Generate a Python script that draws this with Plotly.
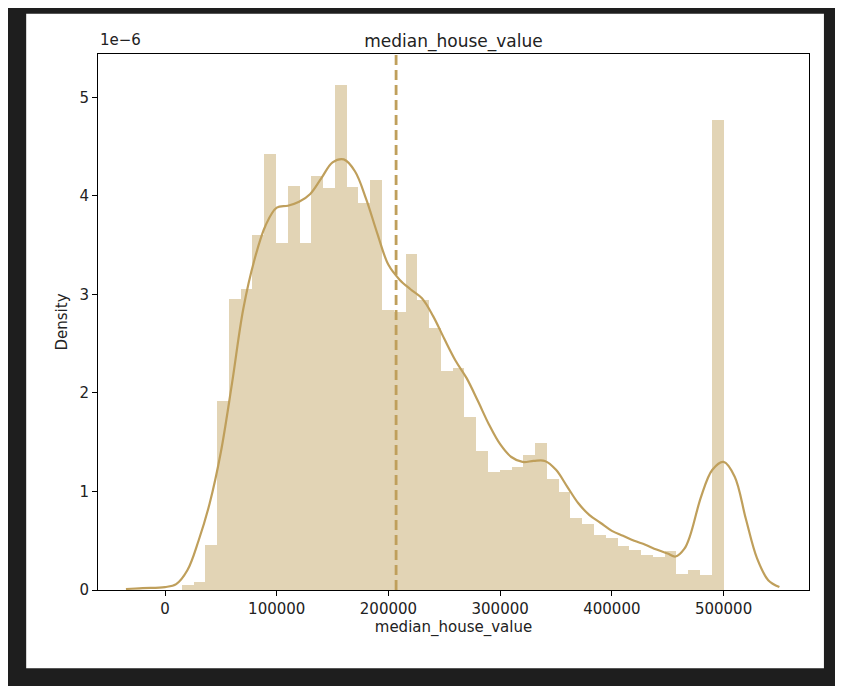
import plotly.graph_objects as go

# histogram of median_house_value (46 equal bins), density in units of 1e-6
bin_start = 14999
bin_end = 500001
n_bins = 46
hist_density = [0.05, 0.08, 0.46, 1.92, 2.95, 3.05, 3.60, 4.43, 3.52, 4.10,
                3.52, 4.20, 4.08, 5.13, 4.09, 3.93, 4.16, 2.84, 2.82, 3.41,
                2.94, 2.66, 2.22, 2.25, 1.76, 1.41, 1.20, 1.22, 1.25, 1.37,
                1.49, 1.13, 0.99, 0.73, 0.67, 0.56, 0.53, 0.45, 0.41, 0.36,
                0.34, 0.40, 0.16, 0.20, 0.15, 4.77]

# kde curve
kde_x = [-35000, -20000, 0, 10000, 20000, 30000, 40000, 50000, 60000, 70000,
         80000, 90000, 100000, 110000, 120000, 130000, 140000, 150000, 160000,
         170000, 180000, 190000, 200000, 210000, 220000, 230000, 240000, 250000,
         260000, 270000, 280000, 290000, 300000, 310000, 320000, 330000, 340000,
         350000, 360000, 370000, 380000, 390000, 400000, 410000, 420000, 430000,
         440000, 450000, 457000, 465000, 470000, 480000, 490000, 500000, 510000,
         520000, 530000, 540000, 550000]
kde_y = [0.01, 0.02, 0.03, 0.06, 0.20, 0.50, 0.88, 1.40, 2.10, 2.85,
         3.35, 3.70, 3.88, 3.90, 3.94, 4.02, 4.18, 4.34, 4.37,
         4.25, 3.97, 3.62, 3.30, 3.15, 3.05, 2.96, 2.78, 2.55,
         2.33, 2.15, 1.92, 1.68, 1.48, 1.35, 1.30, 1.31, 1.31,
         1.22, 1.05, 0.88, 0.76, 0.68, 0.60, 0.55, 0.50, 0.46,
         0.41, 0.37, 0.34, 0.42, 0.55, 0.95, 1.22, 1.30, 1.15,
         0.72, 0.32, 0.10, 0.03]

mean_value = 206856
y_ticks = [0, 1, 2, 3, 4, 5]
x_ticks = [0, 100000, 200000, 300000, 400000, 500000]

gold = "#bf9f5b"
bin_width = (bin_end - bin_start) / n_bins
centers = [bin_start + bin_width * (i + 0.5) for i in range(n_bins)]

fig = go.Figure()
fig.add_trace(go.Bar(x=centers, y=hist_density, width=bin_width,
                     marker=dict(color="rgba(191,159,91,0.45)", line_width=0),
                     showlegend=False))
fig.add_trace(go.Scatter(x=kde_x, y=kde_y, mode="lines", line=dict(color=gold, width=2.2),
                         line_shape="spline", showlegend=False))
fig.add_shape(type="line", x0=mean_value, x1=mean_value, y0=0, y1=1, yref="paper",
              line=dict(color=gold, width=2.8, dash="10px,5px"))
# white canvas inside the dark frame
fig.add_shape(type="rect", xref="paper", yref="paper", x0=-0.101, x1=1.021, y0=-0.146, y1=1.075,
              fillcolor="white", line_width=0, layer="below")
fig.add_annotation(text="1e\u22126", xref="paper", yref="paper", x=0, y=1.005,
                   xanchor="left", yanchor="bottom", showarrow=False, font=dict(size=15))

axis_style = dict(showline=True, linecolor="black", linewidth=1, mirror=True, ticks="outside",
                  ticklen=5, tickcolor="black", showgrid=False, zeroline=False,
                  tickfont=dict(size=15, color="#222"), automargin=False)
fig.update_xaxes(range=[-60000, 576500], tickvals=x_ticks, ticktext=[str(v) for v in x_ticks],
                 title=dict(text="median_house_value", font=dict(size=15, color="#222"), standoff=4),
                 **axis_style)
fig.update_yaxes(range=[0, 5.44], tickvals=y_ticks, ticktext=[str(v) for v in y_ticks],
                 title=dict(text="Density", font=dict(size=15, color="#222"), standoff=8),
                 **axis_style)
fig.update_layout(width=843, height=686, margin=dict(l=90, r=42, t=46, b=104),
                  paper_bgcolor="#1e1e1e", plot_bgcolor="white", bargap=0,
                  font=dict(family="DejaVu Sans", color="#222"),
                  title=dict(text="median_house_value", x=0.5, xref="paper", y=0.96,
                             font=dict(size=17, color="#222")))
fig.write_html("out.html")
